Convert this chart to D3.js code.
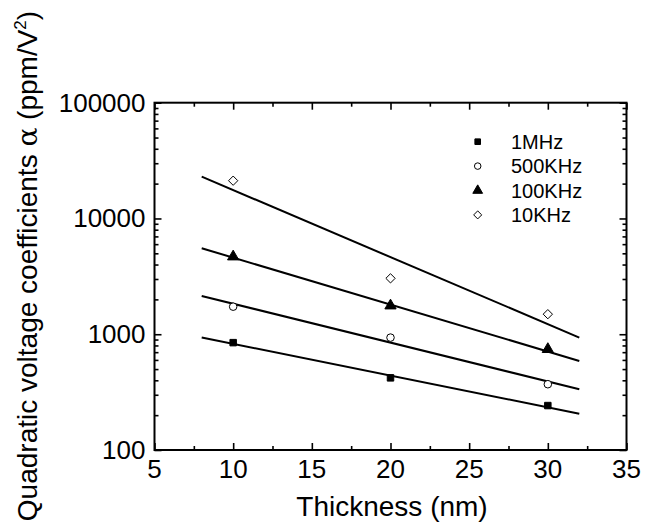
<!DOCTYPE html>
<html>
<head>
<meta charset="utf-8">
<script src="https://cdn.jsdelivr.net/npm/d3@7"></script>
<style>
  body { margin: 0; background: #fff; }
  text { font-family: "Liberation Sans", Arial, sans-serif; fill: #000; }
</style>
</head>
<body>
<div id="chart"></div>
<script>
// data
var thickness = [10, 20, 30];
var seriesNames = ["1MHz", "500KHz", "100KHz", "10KHz"];
var mhz1 = [846, 420, 242];
var khz500 = [1730, 935, 370];
var khz100 = [4680, 1765, 742];
var khz10 = [21200, 3040, 1490];
// fitted lines, value at x = 8 and x = 32
var fitX = [8, 32];
var fit1MHz = [936, 206];
var fit500KHz = [2140, 335];
var fit100KHz = [5530, 588];
var fit10KHz = [22960, 936];
var xTicks = [5, 10, 15, 20, 25, 30, 35];
var yTicks = [100, 1000, 10000, 100000];

var W = 645, H = 531;
var m = {left: 154.5, top: 102.7, right: 626.5, bottom: 450};

var svg = d3.select("#chart").append("svg")
    .attr("width", W)
    .attr("height", H);

var x = d3.scaleLinear().domain([5, 35]).range([m.left, m.right]);
var y = d3.scaleLog().domain([100, 100000]).range([m.bottom, m.top]);

// minor ticks
var xMinor = d3.range(7.5, 35, 5);
var yMinor = [];
yTicks.slice(0, -1).forEach(function (t) {
    for (var k = 2; k <= 9; k++) yMinor.push(t * k);
});

function frameAxis(axis, size) {
    return function (g) {
        g.call(axis.tickSize(size).tickFormat(""));
        g.select(".domain").remove();
        g.selectAll("line").attr("stroke", "#000").attr("stroke-width", 1.6);
    };
}

// bottom
svg.append("g").attr("transform", "translate(0," + m.bottom + ")")
    .call(frameAxis(d3.axisTop(x).tickValues(xTicks), 7));
svg.append("g").attr("transform", "translate(0," + m.bottom + ")")
    .call(frameAxis(d3.axisTop(x).tickValues(xMinor), 4));
// top
svg.append("g").attr("transform", "translate(0," + m.top + ")")
    .call(frameAxis(d3.axisBottom(x).tickValues(xTicks), 7));
svg.append("g").attr("transform", "translate(0," + m.top + ")")
    .call(frameAxis(d3.axisBottom(x).tickValues(xMinor), 4));
// left
svg.append("g").attr("transform", "translate(" + m.left + ",0)")
    .call(frameAxis(d3.axisRight(y).tickValues(yTicks), 7));
svg.append("g").attr("transform", "translate(" + m.left + ",0)")
    .call(frameAxis(d3.axisRight(y).tickValues(yMinor), 4));
// right
svg.append("g").attr("transform", "translate(" + m.right + ",0)")
    .call(frameAxis(d3.axisLeft(y).tickValues(yTicks), 7));
svg.append("g").attr("transform", "translate(" + m.right + ",0)")
    .call(frameAxis(d3.axisLeft(y).tickValues(yMinor), 4));

// frame
svg.append("rect")
    .attr("x", m.left).attr("y", m.top)
    .attr("width", m.right - m.left).attr("height", m.bottom - m.top)
    .attr("fill", "none").attr("stroke", "#000").attr("stroke-width", 2);

// tick labels
svg.append("g").selectAll("text").data(xTicks).enter().append("text")
    .attr("x", function (d) { return x(d); })
    .attr("y", 478)
    .attr("text-anchor", "middle")
    .style("font-size", "26px")
    .text(function (d) { return d; });
svg.append("g").selectAll("text").data(yTicks).enter().append("text")
    .attr("x", m.left - 9)
    .attr("y", function (d) { return y(d) + 9; })
    .attr("text-anchor", "end")
    .style("font-size", "26px")
    .text(function (d) { return d; });

// axis titles
svg.append("text")
    .attr("x", 392)
    .attr("y", 516)
    .attr("text-anchor", "middle")
    .style("font-size", "28px")
    .text("Thickness (nm)");
var yt = svg.append("text")
    .attr("transform", "translate(37,266) rotate(-90)")
    .attr("text-anchor", "middle")
    .style("font-size", "28px");
yt.append("tspan").text("Quadratic voltage coefficients ");
yt.append("tspan").style("font-family", "'DejaVu Serif', serif").text("α");
yt.append("tspan").text(" (ppm/V");
yt.append("tspan").attr("dy", -11).style("font-size", "17px").text("2");
yt.append("tspan").attr("dy", 11).text(")");

// fit lines
var fits = [fit1MHz, fit500KHz, fit100KHz, fit10KHz];
var line = d3.line()
    .x(function (d) { return x(d[0]); })
    .y(function (d) { return y(d[1]); });
svg.append("g").selectAll("path").data(fits).enter().append("path")
    .attr("d", function (f) { return line(fitX.map(function (v, i) { return [v, f[i]]; })); })
    .attr("fill", "none")
    .attr("stroke", "#000")
    .attr("stroke-width", 2);

// markers
var series = [mhz1, khz500, khz100, khz10];
var symbols = [
    {type: d3.symbolSquare, size: 42, fill: "#000"},
    {type: d3.symbolCircle, size: 45, fill: "#fff"},
    {type: d3.symbolTriangle, size: 55, fill: "#000"},
    {type: d3.symbolDiamond2, size: 55, fill: "#fff"}
];
series.forEach(function (s, si) {
    var sym = symbols[si];
    svg.append("g").selectAll("path").data(s).enter().append("path")
        .attr("transform", function (d, i) { return "translate(" + x(thickness[i]) + "," + y(d) + ")"; })
        .attr("d", d3.symbol().type(sym.type).size(sym.size))
        .attr("fill", sym.fill)
        .attr("stroke", "#000")
        .attr("stroke-width", 1);
});

// legend
var leg = svg.append("g");
seriesNames.forEach(function (name, i) {
    var sym = symbols[i];
    var ly = 141.7 + i * 24.4;
    leg.append("path")
        .attr("transform", "translate(477.7," + ly + ")")
        .attr("d", d3.symbol().type(sym.type).size(sym.size * 0.75))
        .attr("fill", sym.fill)
        .attr("stroke", "#000")
        .attr("stroke-width", 1);
    leg.append("text")
        .attr("x", 511)
        .attr("y", ly + 7)
        .style("font-size", "20px")
        .text(name);
});
</script>
</body>
</html>
